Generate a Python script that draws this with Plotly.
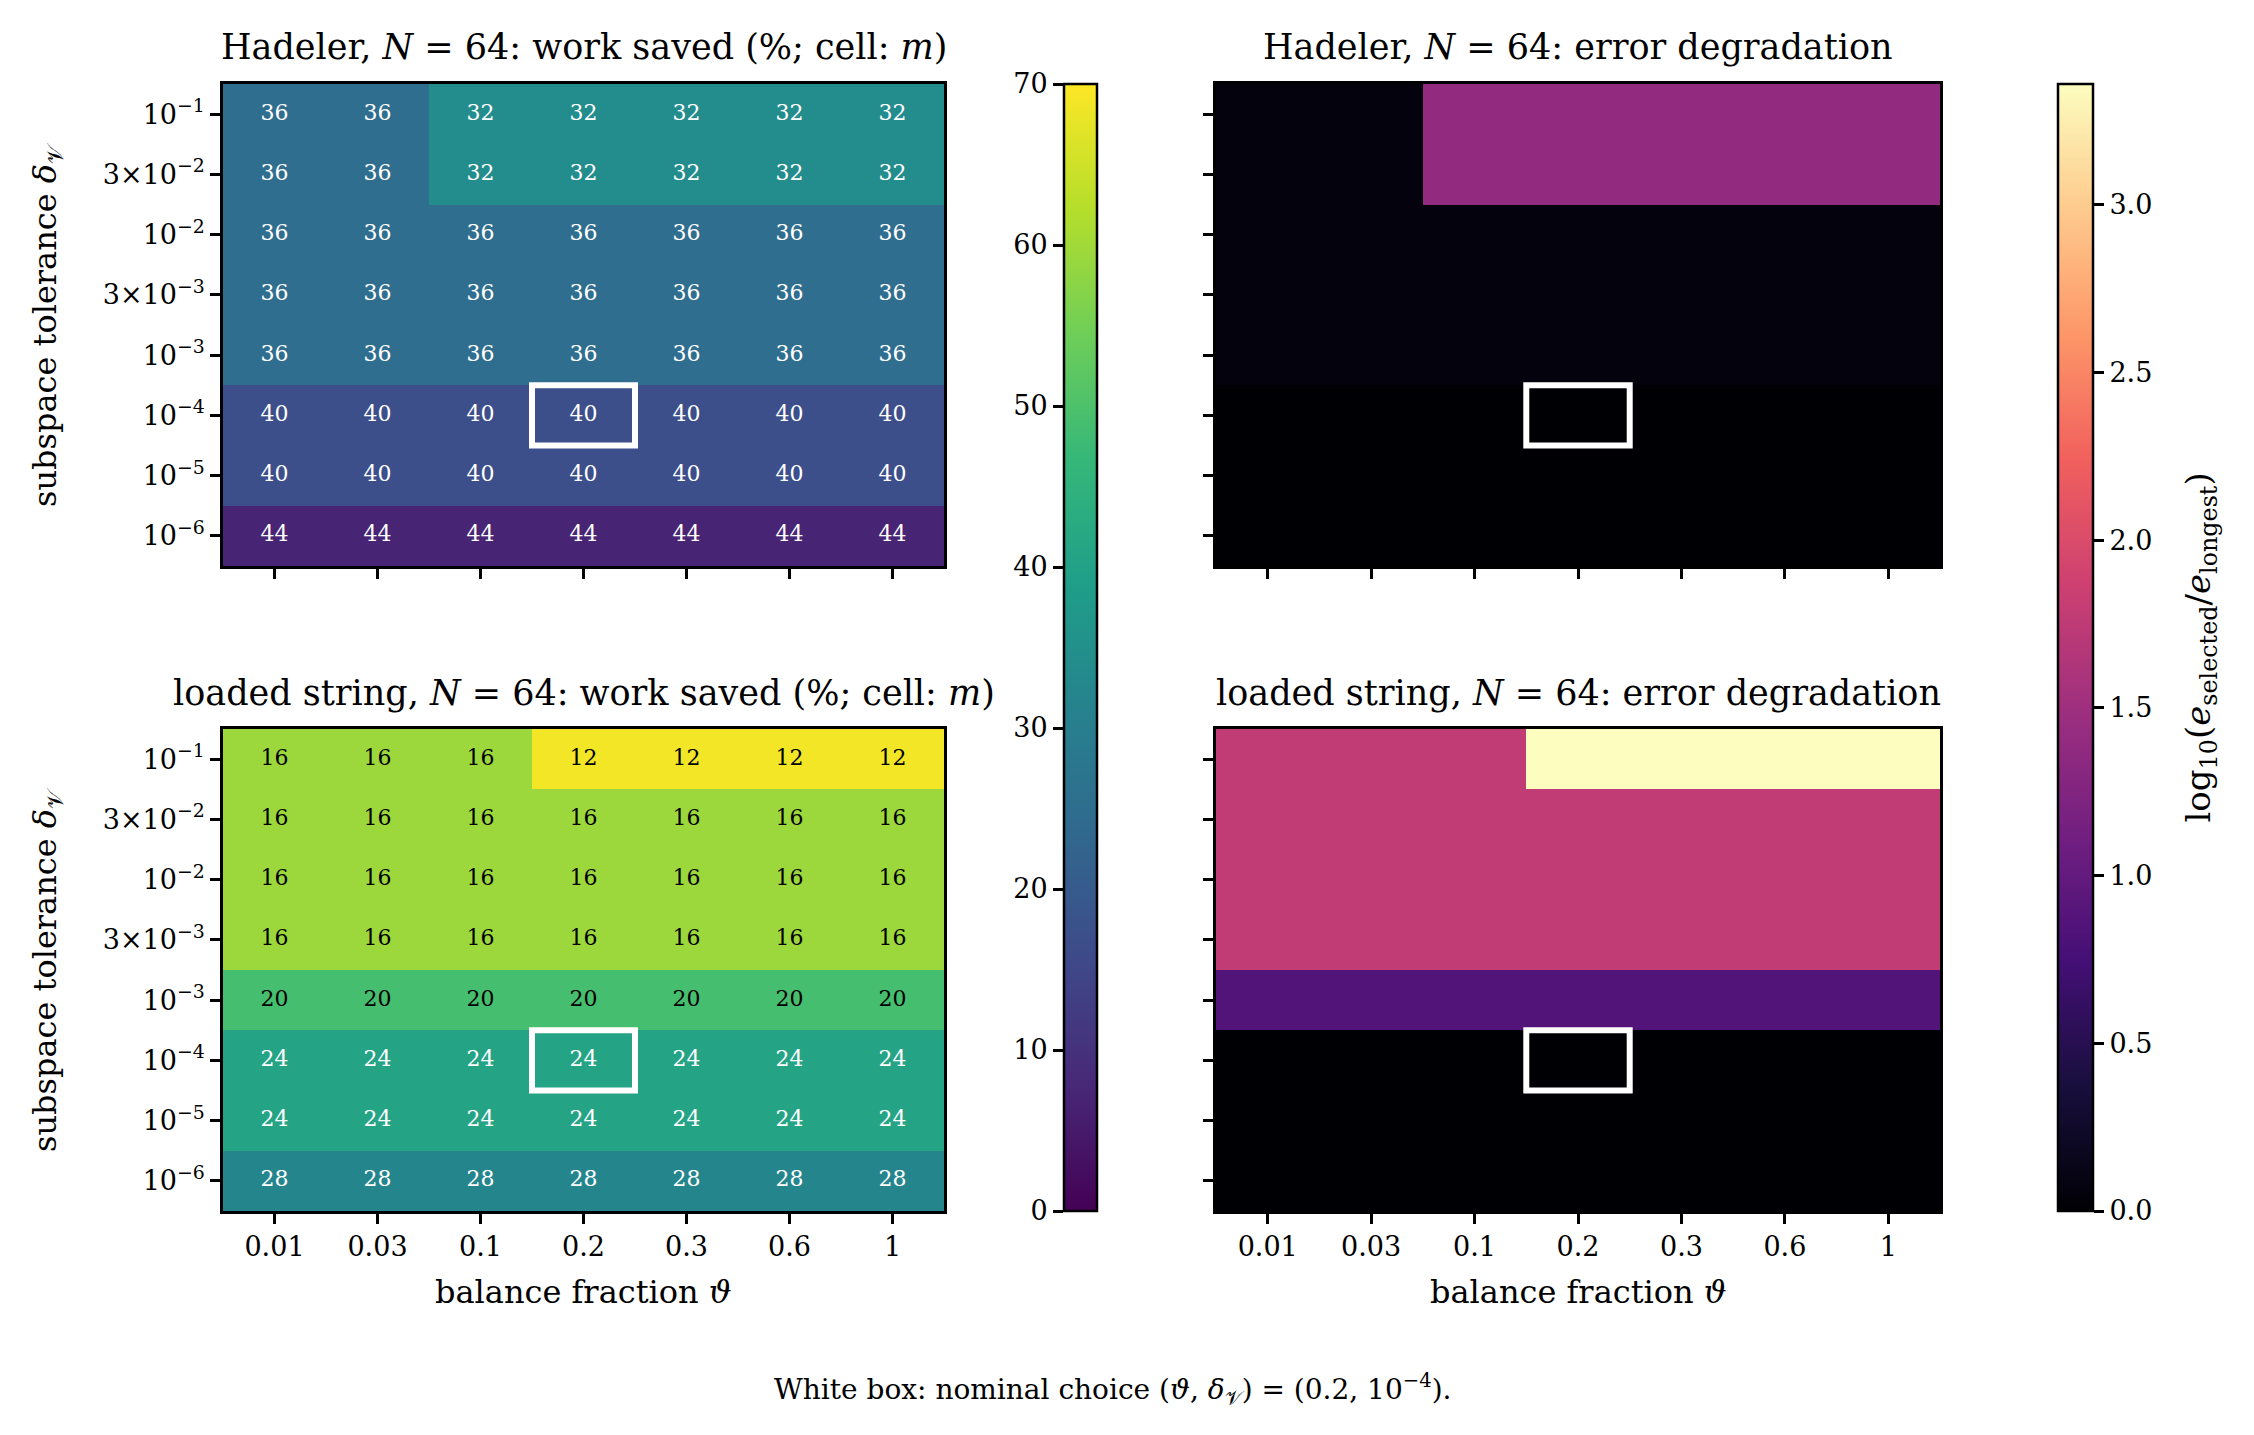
import plotly.graph_objects as go

W, H = 2254, 1435
FONT = "DejaVu Serif"

# ---------------- data ----------------
theta_labels = ["0.01", "0.03", "0.1", "0.2", "0.3", "0.6", "1"]
delta_labels = ["10<sup>−1</sup>", "3×10<sup>−2</sup>", "10<sup>−2</sup>", "3×10<sup>−3</sup>",
                "10<sup>−3</sup>", "10<sup>−4</sup>", "10<sup>−5</sup>", "10<sup>−6</sup>"]

# cell annotation m (rows: delta 1e-1 ... 1e-6, cols: theta 0.01 ... 1)
hadeler_m = [
    [36, 36, 32, 32, 32, 32, 32],
    [36, 36, 32, 32, 32, 32, 32],
    [36, 36, 36, 36, 36, 36, 36],
    [36, 36, 36, 36, 36, 36, 36],
    [36, 36, 36, 36, 36, 36, 36],
    [40, 40, 40, 40, 40, 40, 40],
    [40, 40, 40, 40, 40, 40, 40],
    [44, 44, 44, 44, 44, 44, 44],
]
# work saved (%) (colour)
hadeler_saved = [
    [25, 25, 34, 34, 34, 34, 34],
    [25, 25, 34, 34, 34, 34, 34],
    [25, 25, 25, 25, 25, 25, 25],
    [25, 25, 25, 25, 25, 25, 25],
    [25, 25, 25, 25, 25, 25, 25],
    [17, 17, 17, 17, 17, 17, 17],
    [17, 17, 17, 17, 17, 17, 17],
    [7, 7, 7, 7, 7, 7, 7],
]
loaded_m = [
    [16, 16, 16, 12, 12, 12, 12],
    [16, 16, 16, 16, 16, 16, 16],
    [16, 16, 16, 16, 16, 16, 16],
    [16, 16, 16, 16, 16, 16, 16],
    [20, 20, 20, 20, 20, 20, 20],
    [24, 24, 24, 24, 24, 24, 24],
    [24, 24, 24, 24, 24, 24, 24],
    [28, 28, 28, 28, 28, 28, 28],
]
loaded_saved = [
    [59.5, 59.5, 59.5, 68.8, 68.8, 68.8, 68.8],
    [59.5, 59.5, 59.5, 59.5, 59.5, 59.5, 59.5],
    [59.5, 59.5, 59.5, 59.5, 59.5, 59.5, 59.5],
    [59.5, 59.5, 59.5, 59.5, 59.5, 59.5, 59.5],
    [49, 49, 49, 49, 49, 49, 49],
    [40.6, 40.6, 40.6, 40.6, 40.6, 40.6, 40.6],
    [40.6, 40.6, 40.6, 40.6, 40.6, 40.6, 40.6],
    [32, 32, 32, 32, 32, 32, 32],
]
# log10(e_selected / e_longest)
hadeler_err = [
    [0.06, 0.06, 1.39, 1.39, 1.39, 1.39, 1.39],
    [0.06, 0.06, 1.39, 1.39, 1.39, 1.39, 1.39],
    [0.06, 0.06, 0.06, 0.06, 0.06, 0.06, 0.06],
    [0.06, 0.06, 0.06, 0.06, 0.06, 0.06, 0.06],
    [0.06, 0.06, 0.06, 0.06, 0.06, 0.06, 0.06],
    [0, 0, 0, 0, 0, 0, 0],
    [0, 0, 0, 0, 0, 0, 0],
    [0, 0, 0, 0, 0, 0, 0],
]
loaded_err = [
    [1.77, 1.77, 1.77, 3.36, 3.36, 3.36, 3.36],
    [1.77, 1.77, 1.77, 1.77, 1.77, 1.77, 1.77],
    [1.77, 1.77, 1.77, 1.77, 1.77, 1.77, 1.77],
    [1.77, 1.77, 1.77, 1.77, 1.77, 1.77, 1.77],
    [0.86, 0.86, 0.86, 0.86, 0.86, 0.86, 0.86],
    [0, 0, 0, 0, 0, 0, 0],
    [0, 0, 0, 0, 0, 0, 0],
    [0, 0, 0, 0, 0, 0, 0],
]
nominal_col, nominal_row = 3, 5   # theta = 0.2, delta = 1e-4

saved_range = [0, 70]
saved_ticks = [0, 10, 20, 30, 40, 50, 60, 70]
err_max = max(max(r) for r in hadeler_err + loaded_err)
err_range = [0, err_max]
err_ticks = [0.0, 0.5, 1.0, 1.5, 2.0, 2.5, 3.0]

# ---------------- layout helpers ----------------
def fx(p):
    return p / W


def fy(p):
    return 1 - p / H


XL = [fx(223), fx(944)]
XR = [fx(1216), fx(1940)]
YT = [fy(566), fy(84)]
YB = [fy(1211), fy(729)]
CB1 = [fx(1064), fx(1097)]
CB2 = [fx(2058), fx(2093)]
CBY = [fy(1211), fy(84)]

tickfont = dict(family=FONT, size=27, color="black")


def ax_style(**kw):
    d = dict(showline=True, linecolor="black", linewidth=2.5, mirror=True,
             ticks="outside", ticklen=10, tickwidth=2.5, tickcolor="black",
             showgrid=False, zeroline=False, tickfont=tickfont, automargin=False)
    d.update(kw)
    return d


nx, ny = len(theta_labels), len(delta_labels)
xs = list(range(nx))
ys = list(range(ny))

fig = go.Figure()

panels = [
    ("x", "y", hadeler_saved, hadeler_m, "coloraxis"),
    ("x2", "y2", hadeler_err, None, "coloraxis2"),
    ("x3", "y3", loaded_saved, loaded_m, "coloraxis"),
    ("x4", "y4", loaded_err, None, "coloraxis2"),
]

for xa, ya, z, m, ca in panels:
    fig.add_trace(go.Heatmap(z=z, x=xs, y=ys, xaxis=xa, yaxis=ya, coloraxis=ca,
                             hoverinfo="skip", xgap=0, ygap=0))
    if m is not None:
        tx, ty, tt, tc = [], [], [], []
        for r in range(ny):
            for c in range(nx):
                tx.append(c)
                ty.append(r)
                tt.append(str(m[r][c]))
                tc.append("black" if z[r][c] > 45 else "white")
        fig.add_trace(go.Scatter(x=tx, y=ty, text=tt, mode="text", xaxis=xa, yaxis=ya,
                                 textfont=dict(family=FONT, size=22, color=tc),
                                 hoverinfo="skip", showlegend=False))
    fig.add_shape(type="rect", xref=xa, yref=ya,
                  x0=nominal_col - 0.5, x1=nominal_col + 0.5,
                  y0=nominal_row - 0.5, y1=nominal_row + 0.5,
                  line=dict(color="white", width=6), layer="above")

# invisible carriers so the colour-bar label axes get drawn
for xa, ya, rng in [("x5", "y5", saved_range), ("x6", "y6", err_range)]:
    fig.add_trace(go.Scatter(x=[0.5, 0.5], y=rng, xaxis=xa, yaxis=ya, mode="markers",
                             marker=dict(opacity=0, size=1), hoverinfo="skip",
                             showlegend=False, cliponaxis=True))

xcommon = dict(range=[-0.5, nx - 0.5], tickmode="array", tickvals=xs, ticktext=theta_labels)
ycommon = dict(range=[ny - 0.5, -0.5], tickmode="array", tickvals=ys, ticktext=delta_labels)

cb_axis = dict(ticks="outside", ticklen=10, tickwidth=2.5, tickcolor="black",
               showline=False, showgrid=False, zeroline=False, tickfont=tickfont,
               tickmode="array", fixedrange=True, automargin=False)

fig.update_layout(
    xaxis=ax_style(domain=XL, anchor="y", showticklabels=False, **xcommon),
    yaxis=ax_style(domain=YT, anchor="x", **ycommon),
    xaxis2=ax_style(domain=XR, anchor="y2", showticklabels=False, **xcommon),
    yaxis2=ax_style(domain=YT, anchor="x2", showticklabels=False, **ycommon),
    xaxis3=ax_style(domain=XL, anchor="y3", **xcommon),
    yaxis3=ax_style(domain=YB, anchor="x3", **ycommon),
    xaxis4=ax_style(domain=XR, anchor="y4", **xcommon),
    yaxis4=ax_style(domain=YB, anchor="x4", showticklabels=False, **ycommon),
    # overlay axes carrying the colour-bar tick labels
    xaxis5=dict(domain=CB1, anchor="y5", visible=False, range=[0, 1], fixedrange=True,
                automargin=False),
    yaxis5=dict(domain=CBY, anchor="x5", range=saved_range, side="left",
                tickvals=saved_ticks, **cb_axis),
    xaxis6=dict(domain=CB2, anchor="y6", visible=False, range=[0, 1], fixedrange=True,
                automargin=False),
    yaxis6=dict(domain=CBY, anchor="x6", range=err_range, side="right",
                tickvals=err_ticks, ticktext=[f"{v:.1f}" for v in err_ticks], **cb_axis),
    coloraxis=dict(colorscale="Viridis", cmin=saved_range[0], cmax=saved_range[1],
                   colorbar=dict(x=CB1[0], xanchor="left", y=CBY[1], yanchor="top",
                                 len=CBY[1] - CBY[0], lenmode="fraction",
                                 thickness=33, thicknessmode="pixels", xpad=0, ypad=0,
                                 outlinewidth=2.5, outlinecolor="black",
                                 showticklabels=False, ticks="")),
    coloraxis2=dict(colorscale="Magma", cmin=err_range[0], cmax=err_range[1],
                    colorbar=dict(x=CB2[0], xanchor="left", y=CBY[1], yanchor="top",
                                  len=CBY[1] - CBY[0], lenmode="fraction",
                                  thickness=35, thicknessmode="pixels", xpad=0, ypad=0,
                                  outlinewidth=2.5, outlinecolor="black",
                                  showticklabels=False, ticks="")),
    width=W, height=H,
    margin=dict(l=0, r=0, t=0, b=0, autoexpand=False),
    paper_bgcolor="white", plot_bgcolor="white",
    font=dict(family=FONT, color="black"),
    showlegend=False,
)

title_font = dict(family=FONT, size=35, color="black")
label_font = dict(family=FONT, size=32, color="black")
ann = []
for x, y, t in [
    ((XL[0] + XL[1]) / 2, fy(47), "Hadeler, <i>N</i> = 64: work saved (%; cell: <i>m</i>)"),
    ((XR[0] + XR[1]) / 2, fy(47), "Hadeler, <i>N</i> = 64: error degradation"),
    ((XL[0] + XL[1]) / 2, fy(693), "loaded string, <i>N</i> = 64: work saved (%; cell: <i>m</i>)"),
    ((XR[0] + XR[1]) / 2, fy(693), "loaded string, <i>N</i> = 64: error degradation"),
]:
    ann.append(dict(x=x, y=y, xref="paper", yref="paper", text=t, showarrow=False,
                    xanchor="center", yanchor="middle", font=title_font))
for y in [(YT[0] + YT[1]) / 2, (YB[0] + YB[1]) / 2]:
    ann.append(dict(x=fx(47), y=y, xref="paper", yref="paper", textangle=-90,
                    text="subspace tolerance <i>δ</i><sub>𝒱</sub>", showarrow=False,
                    xanchor="center", yanchor="middle", font=label_font))
for x in [(XL[0] + XL[1]) / 2, (XR[0] + XR[1]) / 2]:
    ann.append(dict(x=x, y=fy(1292), xref="paper", yref="paper",
                    text="balance fraction <i>ϑ</i>", showarrow=False,
                    xanchor="center", yanchor="middle", font=label_font))
ann.append(dict(x=fx(2200), y=(CBY[0] + CBY[1]) / 2, xref="paper", yref="paper", textangle=-90,
                text="log<sub>10</sub>(<i>e</i><sub>selected</sub>/<i>e</i><sub>longest</sub>)",
                showarrow=False, xanchor="center", yanchor="middle",
                font=dict(family=FONT, size=34, color="black")))
ann.append(dict(x=fx(1112), y=fy(1389), xref="paper", yref="paper",
                text="White box: nominal choice (<i>ϑ</i>, <i>δ</i><sub>𝒱</sub>) = (0.2, 10<sup>−4</sup>).",
                showarrow=False, xanchor="center", yanchor="middle",
                font=dict(family=FONT, size=28, color="black")))
fig.update_layout(annotations=ann)

fig.write_html("out.html")
